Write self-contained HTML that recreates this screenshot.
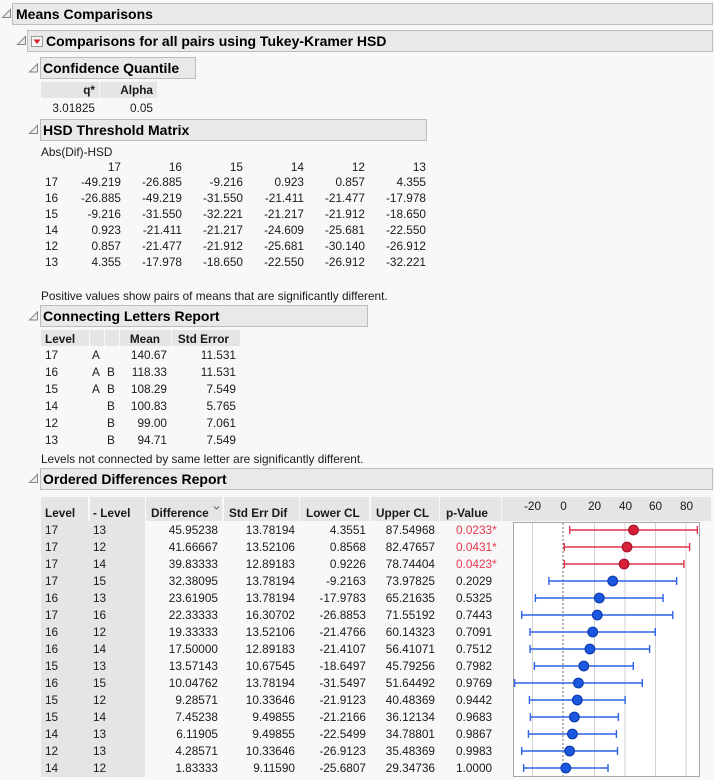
<!DOCTYPE html>
<html><head><meta charset="utf-8">
<style>
html,body{margin:0;padding:0}
body{width:714px;height:780px;overflow:hidden;background:#f8f8f8;position:relative;font-family:"Liberation Sans",Arial,sans-serif;color:#1a1a1a}
.t{position:absolute;white-space:nowrap;line-height:16px;font-size:11.8px}
.r{position:absolute;white-space:nowrap;line-height:16px;font-size:11.8px;width:100px;text-align:right}
.b{font-weight:bold}
.box{position:absolute;background:#e9e9e9;border:1px solid #bdbdbd;box-sizing:border-box}
.ttl{position:absolute;white-space:nowrap;font-weight:bold;font-size:14px;line-height:20px;color:#000}
.cell{position:absolute;background:#e5e5e5}
.red{color:#e8384f}
svg{position:absolute;left:0;top:0}
</style></head><body>

<!-- header boxes -->
<div class="box" style="left:12px;top:3px;width:701px;height:22px"></div>
<div class="ttl" style="left:16px;top:4px">Means Comparisons</div>
<div class="box" style="left:27px;top:30px;width:686px;height:22px"></div>
<div class="ttl" style="left:46px;top:31px">Comparisons for all pairs using Tukey-Kramer HSD</div>
<div class="box" style="left:40px;top:57px;width:156px;height:22px"></div>
<div class="ttl" style="left:43px;top:58px">Confidence Quantile</div>

<!-- q table -->
<div class="cell" style="left:41px;top:82px;width:58px;height:16px"></div>
<div class="cell" style="left:100px;top:82px;width:57px;height:16px"></div>
<div class="r b" style="left:-5px;top:82px">q*</div>
<div class="r b" style="left:53px;top:82px">Alpha</div>
<div class="r" style="left:-5px;top:100px">3.01825</div>
<div class="r" style="left:53px;top:100px">0.05</div>

<div class="box" style="left:40px;top:119px;width:387px;height:22px"></div>
<div class="ttl" style="left:43px;top:120px">HSD Threshold Matrix</div>
<div class="t" style="left:41px;top:144px">Abs(Dif)-HSD</div>

<!-- matrix -->
<div class="r" style="left:21px;top:159px">17</div>
<div class="r" style="left:82px;top:159px">16</div>
<div class="r" style="left:143px;top:159px">15</div>
<div class="r" style="left:204px;top:159px">14</div>
<div class="r" style="left:265px;top:159px">12</div>
<div class="r" style="left:326px;top:159px">13</div>

<div class="t" style="left:45px;top:174px">17</div>
<div class="r" style="left:21px;top:174px">-49.219</div><div class="r" style="left:82px;top:174px">-26.885</div><div class="r" style="left:143px;top:174px">-9.216</div><div class="r" style="left:204px;top:174px">0.923</div><div class="r" style="left:265px;top:174px">0.857</div><div class="r" style="left:326px;top:174px">4.355</div>
<div class="t" style="left:45px;top:190px">16</div>
<div class="r" style="left:21px;top:190px">-26.885</div><div class="r" style="left:82px;top:190px">-49.219</div><div class="r" style="left:143px;top:190px">-31.550</div><div class="r" style="left:204px;top:190px">-21.411</div><div class="r" style="left:265px;top:190px">-21.477</div><div class="r" style="left:326px;top:190px">-17.978</div>
<div class="t" style="left:45px;top:206px">15</div>
<div class="r" style="left:21px;top:206px">-9.216</div><div class="r" style="left:82px;top:206px">-31.550</div><div class="r" style="left:143px;top:206px">-32.221</div><div class="r" style="left:204px;top:206px">-21.217</div><div class="r" style="left:265px;top:206px">-21.912</div><div class="r" style="left:326px;top:206px">-18.650</div>
<div class="t" style="left:45px;top:222px">14</div>
<div class="r" style="left:21px;top:222px">0.923</div><div class="r" style="left:82px;top:222px">-21.411</div><div class="r" style="left:143px;top:222px">-21.217</div><div class="r" style="left:204px;top:222px">-24.609</div><div class="r" style="left:265px;top:222px">-25.681</div><div class="r" style="left:326px;top:222px">-22.550</div>
<div class="t" style="left:45px;top:238px">12</div>
<div class="r" style="left:21px;top:238px">0.857</div><div class="r" style="left:82px;top:238px">-21.477</div><div class="r" style="left:143px;top:238px">-21.912</div><div class="r" style="left:204px;top:238px">-25.681</div><div class="r" style="left:265px;top:238px">-30.140</div><div class="r" style="left:326px;top:238px">-26.912</div>
<div class="t" style="left:45px;top:254px">13</div>
<div class="r" style="left:21px;top:254px">4.355</div><div class="r" style="left:82px;top:254px">-17.978</div><div class="r" style="left:143px;top:254px">-18.650</div><div class="r" style="left:204px;top:254px">-22.550</div><div class="r" style="left:265px;top:254px">-26.912</div><div class="r" style="left:326px;top:254px">-32.221</div>

<div class="t" style="left:41px;top:288px">Positive values show pairs of means that are significantly different.</div>

<!-- connecting letters -->
<div class="box" style="left:40px;top:305px;width:328px;height:22px"></div>
<div class="ttl" style="left:43px;top:306px">Connecting Letters Report</div>
<div class="cell" style="left:41px;top:330px;width:48px;height:16px"></div>
<div class="cell" style="left:90px;top:330px;width:14px;height:16px"></div>
<div class="cell" style="left:105px;top:330px;width:14px;height:16px"></div>
<div class="cell" style="left:120px;top:330px;width:51px;height:16px"></div>
<div class="cell" style="left:172px;top:330px;width:68px;height:16px"></div>
<div class="t b" style="left:45px;top:331px">Level</div>
<div class="r b" style="left:60px;top:331px">Mean</div>
<div class="r b" style="left:129px;top:331px">Std Error</div>

<div class="t" style="left:45px;top:347px">17</div><div class="t" style="left:92px;top:347px">A</div><div class="r" style="left:67px;top:347px">140.67</div><div class="r" style="left:136px;top:347px">11.531</div>
<div class="t" style="left:45px;top:364px">16</div><div class="t" style="left:92px;top:364px">A</div><div class="t" style="left:107px;top:364px">B</div><div class="r" style="left:67px;top:364px">118.33</div><div class="r" style="left:136px;top:364px">11.531</div>
<div class="t" style="left:45px;top:381px">15</div><div class="t" style="left:92px;top:381px">A</div><div class="t" style="left:107px;top:381px">B</div><div class="r" style="left:67px;top:381px">108.29</div><div class="r" style="left:136px;top:381px">7.549</div>
<div class="t" style="left:45px;top:398px">14</div><div class="t" style="left:107px;top:398px">B</div><div class="r" style="left:67px;top:398px">100.83</div><div class="r" style="left:136px;top:398px">5.765</div>
<div class="t" style="left:45px;top:415px">12</div><div class="t" style="left:107px;top:415px">B</div><div class="r" style="left:67px;top:415px">99.00</div><div class="r" style="left:136px;top:415px">7.061</div>
<div class="t" style="left:45px;top:432px">13</div><div class="t" style="left:107px;top:432px">B</div><div class="r" style="left:67px;top:432px">94.71</div><div class="r" style="left:136px;top:432px">7.549</div>

<div class="t" style="left:41px;top:451px">Levels not connected by same letter are significantly different.</div>

<!-- ordered differences -->
<div class="box" style="left:40px;top:468px;width:673px;height:22px"></div>
<div class="ttl" style="left:43px;top:469px">Ordered Differences Report</div>

<div class="cell" style="left:41px;top:497px;width:47px;height:24px"></div>
<div class="cell" style="left:90px;top:497px;width:55px;height:24px"></div>
<div class="cell" style="left:146px;top:497px;width:76px;height:24px"></div>
<div class="cell" style="left:224px;top:497px;width:75px;height:24px"></div>
<div class="cell" style="left:300px;top:497px;width:69px;height:24px"></div>
<div class="cell" style="left:371px;top:497px;width:68px;height:24px"></div>
<div class="cell" style="left:440px;top:497px;width:61px;height:24px"></div>
<div class="cell" style="left:502px;top:497px;width:209px;height:24px"></div>
<div class="cell" style="left:41px;top:521px;width:104px;height:256px"></div>

<div class="t b" style="left:45px;top:505px">Level</div>
<div class="t b" style="left:93px;top:505px">- Level</div>
<div class="t b" style="left:151px;top:505px">Difference</div>
<div class="t b" style="left:229px;top:505px">Std Err Dif</div>
<div class="t b" style="left:306px;top:505px">Lower CL</div>
<div class="t b" style="left:376px;top:505px">Upper CL</div>
<div class="t b" style="left:446px;top:505px">p-Value</div>

<div class="t" style="left:519px;top:498px;width:27px;text-align:center">-20</div>
<div class="t" style="left:550px;top:498px;width:27px;text-align:center">0</div>
<div class="t" style="left:581px;top:498px;width:27px;text-align:center">20</div>
<div class="t" style="left:612px;top:498px;width:27px;text-align:center">40</div>
<div class="t" style="left:642px;top:498px;width:27px;text-align:center">60</div>
<div class="t" style="left:673px;top:498px;width:27px;text-align:center">80</div>

<!-- rows -->
<div class="t" style="left:45px;top:522px">17</div><div class="t" style="left:93px;top:522px">13</div><div class="r" style="left:118px;top:522px">45.95238</div><div class="r" style="left:195px;top:522px">13.78194</div><div class="r" style="left:266px;top:522px">4.3551</div><div class="r" style="left:335px;top:522px">87.54968</div><div class="t red" style="left:456px;top:522px">0.0233*</div>
<div class="t" style="left:45px;top:539px">17</div><div class="t" style="left:93px;top:539px">12</div><div class="r" style="left:118px;top:539px">41.66667</div><div class="r" style="left:195px;top:539px">13.52106</div><div class="r" style="left:266px;top:539px">0.8568</div><div class="r" style="left:335px;top:539px">82.47657</div><div class="t red" style="left:456px;top:539px">0.0431*</div>
<div class="t" style="left:45px;top:556px">17</div><div class="t" style="left:93px;top:556px">14</div><div class="r" style="left:118px;top:556px">39.83333</div><div class="r" style="left:195px;top:556px">12.89183</div><div class="r" style="left:266px;top:556px">0.9226</div><div class="r" style="left:335px;top:556px">78.74404</div><div class="t red" style="left:456px;top:556px">0.0423*</div>
<div class="t" style="left:45px;top:573px">17</div><div class="t" style="left:93px;top:573px">15</div><div class="r" style="left:118px;top:573px">32.38095</div><div class="r" style="left:195px;top:573px">13.78194</div><div class="r" style="left:266px;top:573px">-9.2163</div><div class="r" style="left:335px;top:573px">73.97825</div><div class="t" style="left:456px;top:573px">0.2029</div>
<div class="t" style="left:45px;top:590px">16</div><div class="t" style="left:93px;top:590px">13</div><div class="r" style="left:118px;top:590px">23.61905</div><div class="r" style="left:195px;top:590px">13.78194</div><div class="r" style="left:266px;top:590px">-17.9783</div><div class="r" style="left:335px;top:590px">65.21635</div><div class="t" style="left:456px;top:590px">0.5325</div>
<div class="t" style="left:45px;top:607px">17</div><div class="t" style="left:93px;top:607px">16</div><div class="r" style="left:118px;top:607px">22.33333</div><div class="r" style="left:195px;top:607px">16.30702</div><div class="r" style="left:266px;top:607px">-26.8853</div><div class="r" style="left:335px;top:607px">71.55192</div><div class="t" style="left:456px;top:607px">0.7443</div>
<div class="t" style="left:45px;top:624px">16</div><div class="t" style="left:93px;top:624px">12</div><div class="r" style="left:118px;top:624px">19.33333</div><div class="r" style="left:195px;top:624px">13.52106</div><div class="r" style="left:266px;top:624px">-21.4766</div><div class="r" style="left:335px;top:624px">60.14323</div><div class="t" style="left:456px;top:624px">0.7091</div>
<div class="t" style="left:45px;top:641px">16</div><div class="t" style="left:93px;top:641px">14</div><div class="r" style="left:118px;top:641px">17.50000</div><div class="r" style="left:195px;top:641px">12.89183</div><div class="r" style="left:266px;top:641px">-21.4107</div><div class="r" style="left:335px;top:641px">56.41071</div><div class="t" style="left:456px;top:641px">0.7512</div>
<div class="t" style="left:45px;top:658px">15</div><div class="t" style="left:93px;top:658px">13</div><div class="r" style="left:118px;top:658px">13.57143</div><div class="r" style="left:195px;top:658px">10.67545</div><div class="r" style="left:266px;top:658px">-18.6497</div><div class="r" style="left:335px;top:658px">45.79256</div><div class="t" style="left:456px;top:658px">0.7982</div>
<div class="t" style="left:45px;top:675px">16</div><div class="t" style="left:93px;top:675px">15</div><div class="r" style="left:118px;top:675px">10.04762</div><div class="r" style="left:195px;top:675px">13.78194</div><div class="r" style="left:266px;top:675px">-31.5497</div><div class="r" style="left:335px;top:675px">51.64492</div><div class="t" style="left:456px;top:675px">0.9769</div>
<div class="t" style="left:45px;top:692px">15</div><div class="t" style="left:93px;top:692px">12</div><div class="r" style="left:118px;top:692px">9.28571</div><div class="r" style="left:195px;top:692px">10.33646</div><div class="r" style="left:266px;top:692px">-21.9123</div><div class="r" style="left:335px;top:692px">40.48369</div><div class="t" style="left:456px;top:692px">0.9442</div>
<div class="t" style="left:45px;top:709px">15</div><div class="t" style="left:93px;top:709px">14</div><div class="r" style="left:118px;top:709px">7.45238</div><div class="r" style="left:195px;top:709px">9.49855</div><div class="r" style="left:266px;top:709px">-21.2166</div><div class="r" style="left:335px;top:709px">36.12134</div><div class="t" style="left:456px;top:709px">0.9683</div>
<div class="t" style="left:45px;top:726px">14</div><div class="t" style="left:93px;top:726px">13</div><div class="r" style="left:118px;top:726px">6.11905</div><div class="r" style="left:195px;top:726px">9.49855</div><div class="r" style="left:266px;top:726px">-22.5499</div><div class="r" style="left:335px;top:726px">34.78801</div><div class="t" style="left:456px;top:726px">0.9867</div>
<div class="t" style="left:45px;top:743px">12</div><div class="t" style="left:93px;top:743px">13</div><div class="r" style="left:118px;top:743px">4.28571</div><div class="r" style="left:195px;top:743px">10.33646</div><div class="r" style="left:266px;top:743px">-26.9123</div><div class="r" style="left:335px;top:743px">35.48369</div><div class="t" style="left:456px;top:743px">0.9983</div>
<div class="t" style="left:45px;top:760px">14</div><div class="t" style="left:93px;top:760px">12</div><div class="r" style="left:118px;top:760px">1.83333</div><div class="r" style="left:195px;top:760px">9.11590</div><div class="r" style="left:266px;top:760px">-25.6807</div><div class="r" style="left:335px;top:760px">29.34736</div><div class="t" style="left:456px;top:760px">1.0000</div>

<svg width="714" height="780" viewBox="0 0 714 780" xmlns="http://www.w3.org/2000/svg">
  <!-- disclosure triangles -->
  <g fill="#ececec" stroke="#858585" stroke-width="1">
    <polygon points="10.5,9.5 10.5,17.5 2.5,17.5"/>
    <polygon points="25.5,36.5 25.5,44.5 17.5,44.5"/>
    <polygon points="37.5,64 37.5,72 29.5,72"/>
    <polygon points="37.5,125.5 37.5,133.5 29.5,133.5"/>
    <polygon points="37.5,312 37.5,320 29.5,320"/>
    <polygon points="37.5,474.5 37.5,482.5 29.5,482.5"/>
  </g>
  <!-- red dropdown -->
  <rect x="31.5" y="36.5" width="11" height="10" fill="#f6f6f6" stroke="#9a9a9a"/>
  <polygon points="33.5,39.5 40.5,39.5 37,44" fill="#d01f2a"/>
  <!-- chevron -->
  <polyline points="214,506.5 216.5,509 219,506.5" fill="none" stroke="#666" stroke-width="1"/>

  <!-- plot box -->
  <rect x="513.5" y="522.5" width="186" height="254" fill="#ffffff" stroke="#a8a8a8"/>
  <g stroke="#d2d2d2" stroke-width="1">
    <line x1="532.5" y1="523" x2="532.5" y2="776"/>
    <line x1="594.5" y1="523" x2="594.5" y2="776"/>
    <line x1="625" y1="523" x2="625" y2="776"/>
    <line x1="655.5" y1="523" x2="655.5" y2="776"/>
    <line x1="686" y1="523" x2="686" y2="776"/>
  </g>
  <line x1="563" y1="523" x2="563" y2="776" stroke="#6a6a6a" stroke-width="1" stroke-dasharray="2,2"/>

  <!-- red series -->
  <g stroke="#e2334c" stroke-width="1.4" fill="none">
    <path d="M569.7,530H697.4M569.7,526V534M697.4,526V534"/>
    <path d="M564.3,547H689.6M564.3,543V551M689.6,543V551"/>
    <path d="M564.4,564H683.9M564.4,560V568M683.9,560V568"/>
  </g>
  <g fill="#d8203a" stroke="#a8142a" stroke-width="1.2">
    <circle cx="633.5" cy="530" r="4.8"/>
    <circle cx="627" cy="547" r="4.8"/>
    <circle cx="624.1" cy="564" r="4.8"/>
  </g>
  <!-- blue series -->
  <g stroke="#2d63e6" stroke-width="1.4" fill="none">
    <path d="M548.9,581H676.6M548.9,577V585M676.6,577V585"/>
    <path d="M535.4,598H663.1M535.4,594V602M663.1,594V602"/>
    <path d="M521.7,615H672.8M521.7,611V619M672.8,611V619"/>
    <path d="M530,632H655.3M530,628V636M655.3,628V636"/>
    <path d="M530.1,649H649.6M530.1,645V653M649.6,645V653"/>
    <path d="M534.4,666H633.3M534.4,662V670M633.3,662V670"/>
    <path d="M514.6,683H642.3M514.6,679V687M642.3,679V687"/>
    <path d="M529.4,700H625.1M529.4,696V704M625.1,696V704"/>
    <path d="M530.4,717H618.4M530.4,713V721M618.4,713V721"/>
    <path d="M528.4,734H616.4M528.4,730V738M616.4,730V738"/>
    <path d="M521.7,751H617.5M521.7,747V755M617.5,747V755"/>
    <path d="M523.6,768H608M523.6,764V772M608,764V772"/>
  </g>
  <g fill="#1c57e0" stroke="#0c3cae" stroke-width="1.2">
    <circle cx="612.7" cy="581" r="4.8"/>
    <circle cx="599.3" cy="598" r="4.8"/>
    <circle cx="597.3" cy="615" r="4.8"/>
    <circle cx="592.7" cy="632" r="4.8"/>
    <circle cx="589.9" cy="649" r="4.8"/>
    <circle cx="583.8" cy="666" r="4.8"/>
    <circle cx="578.4" cy="683" r="4.8"/>
    <circle cx="577.3" cy="700" r="4.8"/>
    <circle cx="574.4" cy="717" r="4.8"/>
    <circle cx="572.4" cy="734" r="4.8"/>
    <circle cx="569.6" cy="751" r="4.8"/>
    <circle cx="565.8" cy="768" r="4.8"/>
  </g>
</svg>
</body></html>
